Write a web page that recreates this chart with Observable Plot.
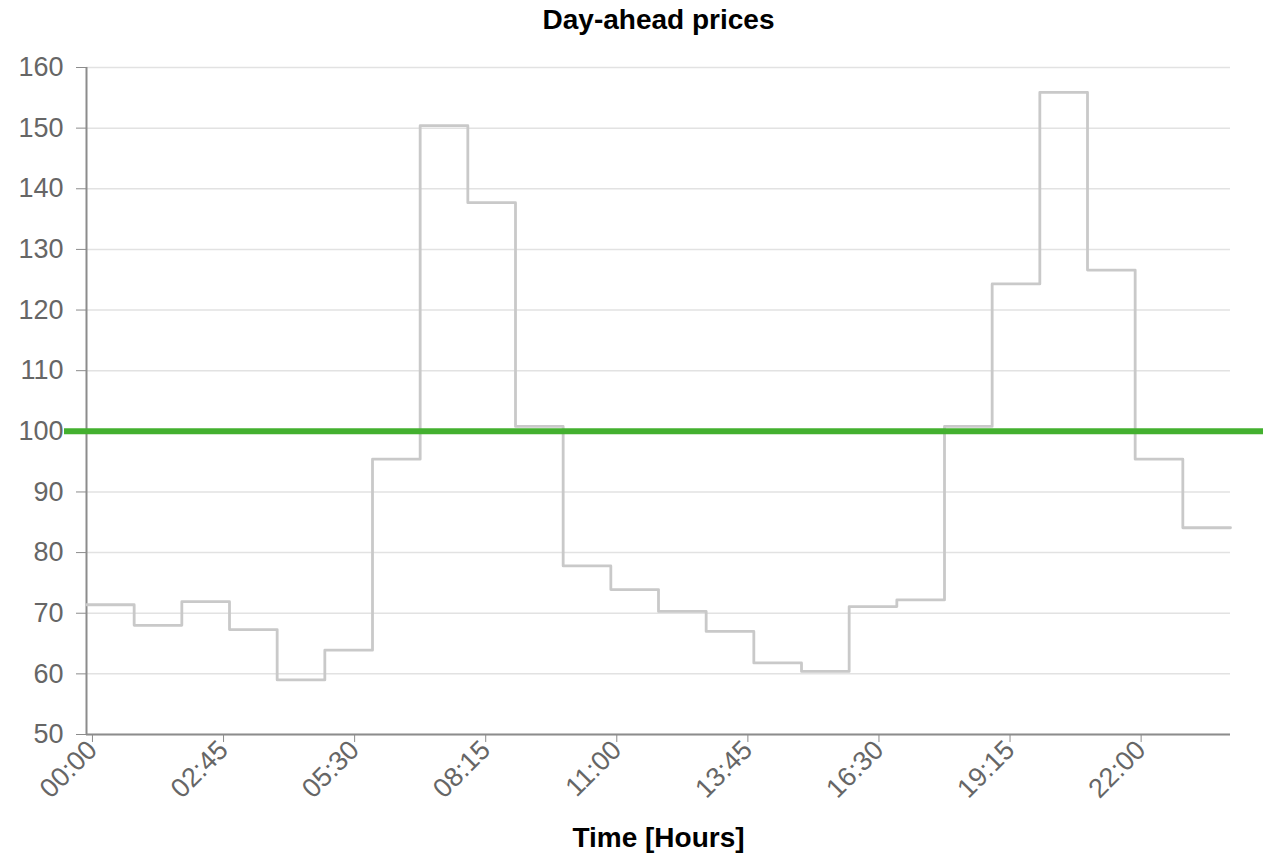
<!DOCTYPE html>
<html><head><meta charset="utf-8">
<script src="https://cdn.jsdelivr.net/npm/d3@7"></script>
<script src="https://cdn.jsdelivr.net/npm/@observablehq/plot@0.6"></script>
<style>body{margin:0;background:#fff}</style>
</head><body><div id="chart"></div>
<script>
// ---- data ----
const hours = [0,1,2,3,4,5,6,7,8,9,10,11,12,13,14,15,16,17,18,19,20,21,22,23];
const prices = [71.4, 68.0, 71.9, 67.3, 59.0, 63.9, 95.4, 150.4, 137.7, 100.8, 77.8, 73.9,
                70.3, 67.0, 61.8, 60.4, 71.1, 72.2, 100.8, 124.3, 155.9, 126.6, 95.4, 84.1];
const threshold = 100;
const tickLabels = ["00:00","02:45","05:30","08:15","11:00","13:45","16:30","19:15","22:00"];
const yTicks = [50,60,70,80,90,100,110,120,130,140,150,160];
const title = "Day-ahead prices";
const xLabel = "Time [Hours]";

// ---- layout ----
const W = 1263, H = 856;
const rows = hours.map((h, i) => ({t: h, price: prices[i]}));
rows.push({t: hours[hours.length - 1] + 1, price: prices[prices.length - 1]});
const toHours = s => { const [h, m] = s.split(":").map(Number); return h + m / 60; };
const bandOffset = 7.5 / 60;   // ticks sit at the centre of each quarter-hour slot
const tickPos = tickLabels.map(s => toHours(s) + bandOffset);
const labelAt = new Map(tickPos.map((p, i) => [p, tickLabels[i]]));

const axisColor = "#8c8c8c";
const chart = Plot.plot({
  width: W, height: H,
  marginLeft: 86, marginRight: 33, marginTop: 67, marginBottom: 122,
  style: {fontFamily: "'Liberation Sans', Arial, sans-serif", background: "#fff", overflow: "visible"},
  x: {domain: [0, 24]},
  y: {domain: [50, 160]},
  marks: [
    Plot.gridY(yTicks, {stroke: "#e2e2e2", strokeOpacity: 1, strokeWidth: 1.5}),
    Plot.axisY(yTicks, {tickSize: 10, tickPadding: 13, fontSize: 27, fill: "#666", stroke: axisColor, label: null}),
    Plot.axisX(tickPos, {tickFormat: d => labelAt.get(d), tickRotate: -45, tickSize: 8, tickPadding: 3,
                         fontSize: 27, fill: "#666", stroke: axisColor, label: null}),
    Plot.ruleX([0], {stroke: axisColor, strokeWidth: 2}),
    Plot.ruleY([50], {stroke: axisColor, strokeWidth: 2}),
    Plot.line(rows, {x: "t", y: "price", curve: "step-after", stroke: "#c9c9c9", strokeWidth: 2.8}),
    Plot.ruleY([threshold], {stroke: "#43b02f", strokeWidth: 6, insetLeft: -22, insetRight: -33}),
    Plot.text([title], {text: d => d, frameAnchor: "top", lineAnchor: "middle", dy: -47,
                        fontSize: 28, fontWeight: "bold", fill: "#000"}),
    Plot.text([xLabel], {text: d => d, frameAnchor: "bottom", lineAnchor: "middle", dy: 104,
                         fontSize: 28, fontWeight: "bold", fill: "#000"})
  ]
});
document.getElementById("chart").appendChild(chart);
</script>
</body></html>
